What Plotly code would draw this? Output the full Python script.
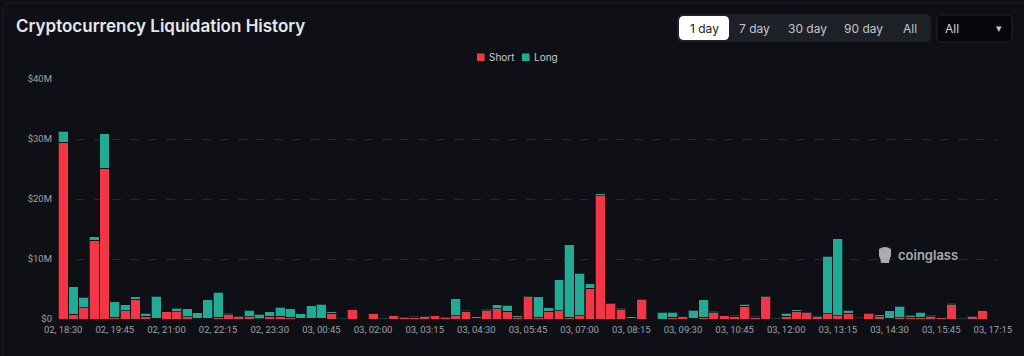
import pandas as pd
import plotly.graph_objects as go

# ---------------- data (values in $M) ----------------
short_vals = [29.5, 0.8, 1.9, 13.1, 25.1, 0.3, 1.4, 3.3, 0.45, 0.1,
              1.3, 1.2, 0.35, 0.15, 0.1, 0.3, 0.7, 0.35, 0.35, 0.05,
              0.5, 0.45, 0.3, 0.15, 0.1, 0.1, 1.0, 0.02, 1.6, 0.12,
              1.0, 0.03, 0.65, 0.2, 0.3, 0.35, 0.6, 0.25, 0.55, 1.3,
              0.1, 1.35, 1.7, 1.3, 0.3, 3.7, 0.3, 1.3, 1.35, 0.3,
              0.55, 5.1, 20.55, 2.55, 1.55, 0.1, 3.2, 0.15, 0.0, 0.3,
              0.45, 0.1, 0.3, 1.05, 0.65, 0.45, 2.1, 0.3, 3.7, 0.05,
              0.5, 1.3, 1.05, 0.35, 0.9, 0.55, 1.0, 0.1, 0.9, 0.35,
              0.1, 0.2, 0.3, 0.3, 0.4, 0.3, 2.35, 0.05, 0.4, 1.45,
              0.0]
long_vals = [1.8, 4.6, 1.7, 0.6, 5.8, 2.6, 1.0, 0.4, 0.5, 3.7,
             0.1, 0.6, 1.35, 0.9, 3.1, 4.2, 0.25, 0.1, 1.1, 0.75,
             0.7, 1.55, 1.4, 0.75, 2.1, 2.4, 0.2, 0.13, 0.1, 0.03,
             0.05, 0.12, 0.05, 0.1, 0.15, 0.2, 0.05, 0.05, 2.85, 0.15,
             0.3, 0.25, 0.7, 1.0, 0.25, 0.1, 3.4, 0.55, 5.2, 12.1,
             7.05, 0.75, 0.35, 0.15, 0.25, 0.3, 0.1, 0.02, 1.1, 0.8,
             0.1, 1.35, 2.9, 0.25, 0.05, 0.15, 0.4, 0.2, 0.15, 0.1,
             0.45, 0.25, 0.05, 0.2, 9.55, 12.85, 0.5, 0.2, 0.05, 0.35,
             1.25, 1.9, 0.3, 0.8, 0.2, 0.05, 0.25, 0.1, 0.15, 0.1,
             0.05]

# 15-minute buckets (one bucket missing in the source before the last one)
_times = pd.date_range("2024-01-02 18:30", "2024-01-03 17:15", freq="15min")
_times = _times.delete(_times.get_loc(pd.Timestamp("2024-01-03 16:30")))
categories = [t.strftime("%d, %H:%M") for t in _times]

y_tickvals = [0, 10, 20, 30, 40]
y_ticktext = ["$0", "$10M", "$20M", "$30M", "$40M"]
range_buttons = ["1 day", "7 day", "30 day", "90 day", "All"]
series_names = ["Short", "Long"]

# ---------------- style ----------------
BG = "#0e1016"
RED = "#f23645"
TEAL = "#22ab94"
W, H = 1024, 356
ML, MR, MT, MB = 58, 26, 79, 37
PW, PH = W - ML - MR, H - MT - MB


def px(x):
    return (x - ML) / PW


def py(y):
    return (H - MB - y) / PH


def rrect(x0, y0, x1, y1, r):
    pts = [
        f"M {px(x0 + r)} {py(y0)}", f"L {px(x1 - r)} {py(y0)}",
        f"Q {px(x1)} {py(y0)} {px(x1)} {py(y0 + r)}", f"L {px(x1)} {py(y1 - r)}",
        f"Q {px(x1)} {py(y1)} {px(x1 - r)} {py(y1)}", f"L {px(x0 + r)} {py(y1)}",
        f"Q {px(x0)} {py(y1)} {px(x0)} {py(y1 - r)}", f"L {px(x0)} {py(y0 + r)}",
        f"Q {px(x0)} {py(y0)} {px(x0 + r)} {py(y0)}", "Z",
    ]
    return " ".join(pts)


fig = go.Figure()
fig.add_trace(go.Bar(x=categories, y=short_vals, name=series_names[0],
                     marker=dict(color=RED, line=dict(color="rgba(10,12,18,0.7)", width=1))))
fig.add_trace(go.Bar(x=categories, y=long_vals, name=series_names[1],
                     marker=dict(color=TEAL, line=dict(color="rgba(10,12,18,0.7)", width=1))))

shapes = []
# card outline
shapes.append(dict(type="path", path=rrect(3, 3, 1060, 420, 8), xref="paper", yref="paper",
                   line=dict(color="#1b1e25", width=1), fillcolor="rgba(0,0,0,0)", layer="below"))
# range button group
shapes.append(dict(type="path", path=rrect(677, 14, 931, 42, 6), xref="paper", yref="paper",
                   line=dict(width=0), fillcolor="#1e2128"))
shapes.append(dict(type="path", path=rrect(679, 16, 729, 40, 5), xref="paper", yref="paper",
                   line=dict(width=0), fillcolor="#ffffff"))
# dropdown
shapes.append(dict(type="path", path=rrect(937, 15, 1012, 42, 5), xref="paper", yref="paper",
                   line=dict(color="#1f232a", width=1), fillcolor="#05070a"))
# watermark icon
shapes.append(dict(type="path", xref="paper", yref="paper",
                   path=(f"M {px(879)} {py(249)} Q {px(885)} {py(245)} {px(891)} {py(249)} "
                         f"L {px(891)} {py(256)} Q {px(889)} {py(259)} {px(889)} {py(263)} "
                         f"L {px(881)} {py(263)} Q {px(881)} {py(259)} {px(879)} {py(256)} Z"),
                   line=dict(width=0), fillcolor="#a9acb2"))
# legend swatches
for sx, col in zip([477, 522], [RED, TEAL]):
    shapes.append(dict(type="rect", xref="paper", yref="paper",
                       x0=px(sx), x1=px(sx + 7.5), y0=py(53.5), y1=py(61),
                       line=dict(width=0), fillcolor=col))

annotations = []
annotations.append(dict(text="Cryptocurrency Liquidation History", x=px(14), y=py(26),
                        xref="paper", yref="paper", xanchor="left", yanchor="middle",
                        showarrow=False,
                        font=dict(family="Inter", size=17, color="#e6e8eb", weight=600)))
btn_x = [704, 754, 807, 863, 910]
for label, bx in zip(range_buttons, btn_x):
    annotations.append(dict(text=label, x=px(bx), y=py(28), xref="paper", yref="paper",
                            xanchor="center", yanchor="middle", showarrow=False,
                            font=dict(family="Inter", size=12,
                                      color="#1a1c22" if label == "1 day" else "#c3c6cc")))
annotations.append(dict(text="All", x=px(943), y=py(28), xref="paper", yref="paper",
                        xanchor="left", yanchor="middle", showarrow=False,
                        font=dict(family="Inter", size=12, color="#d3d6db")))
annotations.append(dict(text="▾", x=px(999), y=py(28), xref="paper", yref="paper",
                        xanchor="center", yanchor="middle", showarrow=False,
                        font=dict(family="DejaVu Sans", size=11, color="#c3c6cc")))
annotations.append(dict(text="coinglass", x=px(896), y=py(255), xref="paper", yref="paper",
                        xanchor="left", yanchor="middle", showarrow=False,
                        font=dict(family="Inter", size=13, color="#a9acb2", weight=600)))
for tx, name in zip([486.5, 531.5], series_names):
    annotations.append(dict(text=name, x=px(tx), y=py(57), xref="paper", yref="paper",
                            xanchor="left", yanchor="middle", showarrow=False,
                            font=dict(family="Inter", size=10, color="#c8cbd0")))

fig.update_layout(
    width=W, height=H,
    margin=dict(l=ML, r=MR, t=MT, b=MB),
    paper_bgcolor=BG, plot_bgcolor=BG,
    barmode="stack", bargap=0.04,
    showlegend=False,
    font=dict(family="Roboto", color="#9ea2a9"),
    xaxis=dict(type="category", tickmode="array", tickvals=categories[::5],
               ticktext=categories[::5], tickangle=0, showgrid=False, zeroline=False,
               showline=False, ticks="", ticklabelstandoff=3,
               tickfont=dict(family="Roboto", size=9.5, color="#9ea2a9"),
               range=[-0.5, len(categories) - 0.5]),
    yaxis=dict(range=[0, 40], tickmode="array", tickvals=y_tickvals, ticktext=y_ticktext,
               showgrid=True, gridcolor="#262930", griddash="dash", gridwidth=1,
               zeroline=False, showline=False, ticks="", ticklabelstandoff=5,
               tickfont=dict(family="Roboto", size=9.5, color="#9ea2a9")),
    shapes=shapes, annotations=annotations,
)

fig.write_html(
    "out.html",
    config={"displayModeBar": False},
    post_script="document.body.style.margin='0';document.body.style.overflow='hidden';"
                "document.body.style.background='" + BG + "';",
)
